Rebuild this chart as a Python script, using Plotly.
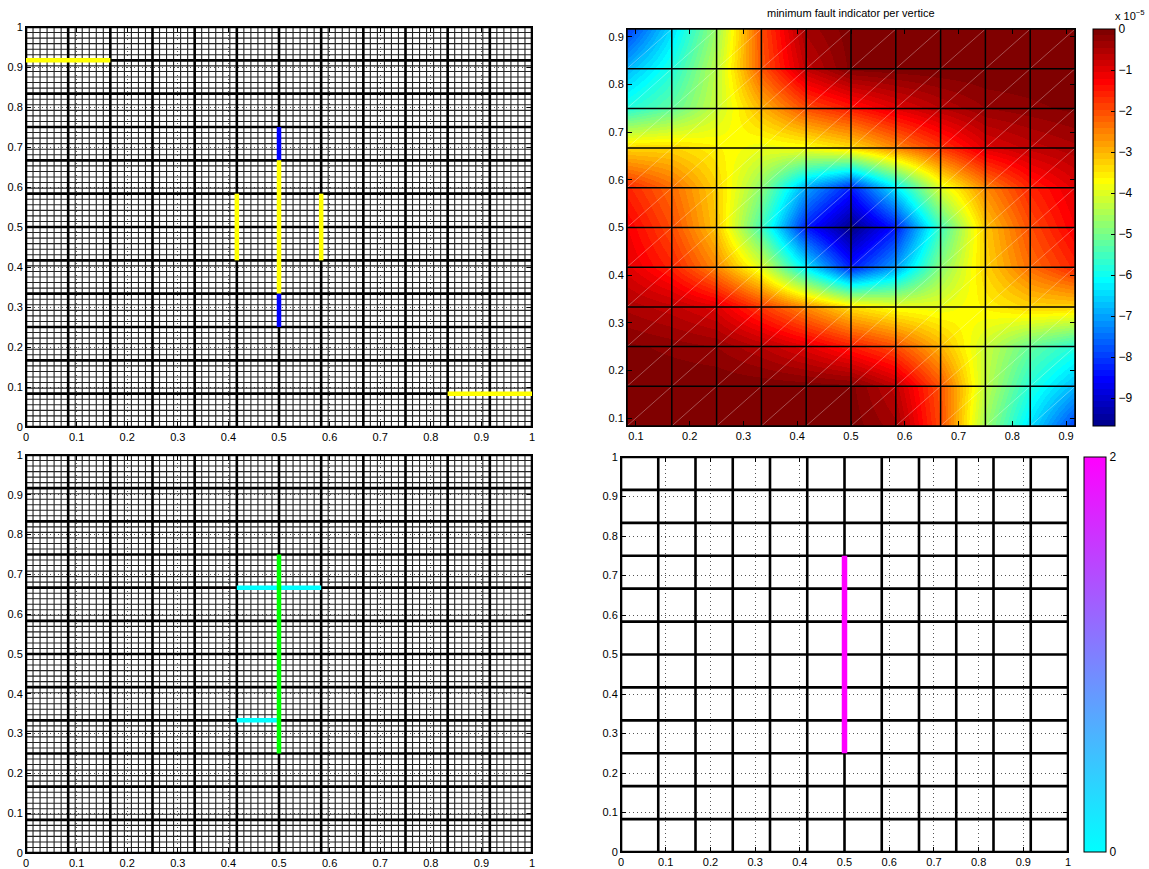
import numpy as np
import plotly.graph_objects as go

# ---------------- data ----------------
# coarse mesh 12x12 elements, each refined 6x6 in the left panels
coarse_lines = [i / 12 for i in range(13)]
fine_lines = [i / 72 for i in range(73)]

# top-left panel: highlighted edges
tl_x0 = [0.0, 10/12, 6/12, 6/12, 6/12, 5/12, 7/12]
tl_x1 = [2/12, 1.0, 6/12, 6/12, 6/12, 5/12, 7/12]
tl_y0 = [11/12, 1/12, 8/12, 4/12, 3/12, 5/12, 5/12]
tl_y1 = [11/12, 1/12, 9/12, 8/12, 4/12, 7/12, 7/12]
tl_col = ["#ffff00", "#ffff00", "#0000ff", "#ffff00", "#0000ff", "#ffff00", "#ffff00"]

# bottom-left panel: highlighted edges
bl_x0 = [5/12, 5/12, 6/12]
bl_x1 = [7/12, 6/12, 6/12]
bl_y0 = [8/12, 4/12, 3/12]
bl_y1 = [8/12, 4/12, 9/12]
bl_col = ["#00ffff", "#00ffff", "#00ff00"]

# top-right: minimum fault indicator per vertex (units of 1e-5), rows bottom -> top
vertex_x = [i / 12 for i in range(1, 12)]
vertex_y = [i / 12 for i in range(1, 12)]
indicator_e5 = [
    [0.0, 0.0, 0.0, 0.0, 0.0, -0.05, -0.4, -2.0, -4.6, -6.4, -8.0],
    [0.0, 0.0, 0.0, -0.02, -0.05, -0.1, -0.7, -2.1, -4.3, -5.8, -6.8],
    [-0.1, -0.2, -0.3, -0.6, -1.0, -1.5, -2.0, -3.0, -4.2, -5.2, -5.8],
    [-0.5, -0.7, -1.0, -1.8, -2.6, -3.4, -3.8, -3.9, -3.6, -3.3, -3.3],
    [-1.0, -1.6, -2.6, -4.0, -6.3, -8.3, -7.0, -4.8, -3.3, -2.3, -1.6],
    [-1.2, -2.0, -3.2, -5.5, -8.3, -9.68, -8.3, -5.5, -3.2, -2.0, -1.2],
    [-1.6, -2.3, -3.3, -4.8, -7.0, -8.3, -6.3, -4.0, -2.6, -1.6, -1.0],
    [-3.3, -3.3, -3.6, -3.9, -3.8, -3.4, -2.6, -1.8, -1.0, -0.7, -0.5],
    [-5.8, -5.2, -4.2, -3.0, -2.0, -1.5, -1.0, -0.6, -0.3, -0.2, -0.1],
    [-6.8, -5.8, -4.3, -2.1, -0.7, -0.1, -0.05, -0.02, 0.0, 0.0, 0.0],
    [-8.0, -6.4, -4.6, -2.0, -0.4, -0.05, 0.0, 0.0, 0.0, 0.0, 0.0],
]
ind_min, ind_max = -9.68, 0.0
cbar1_ticks = [-9, -8, -7, -6, -5, -4, -3, -2, -1, 0]

# bottom-right: fault edge with value
br_x0 = [6/12]
br_x1 = [6/12]
br_y0 = [3/12]
br_y1 = [9/12]
br_val = [2]
cbar2_ticks = [0, 2]

title_tr = "minimum fault indicator per vertice"

# ---------------- styling helpers ----------------
W, H = 1149, 869
FONT = dict(family="Liberation Sans, Arial, sans-serif", size=11, color="black")


def px_x(a, b):
    return [a / W, b / W]


def px_y(top, bottom):
    return [1 - bottom / H, 1 - top / H]


def jet(m=64):
    n = int(np.ceil(m / 4))
    u = np.concatenate([np.arange(1, n + 1) / n, np.ones(n - 1), np.arange(n, 0, -1) / n])
    g = int(np.ceil(n / 2)) - (1 if m % 4 == 1 else 0) + np.arange(1, len(u) + 1)
    r = g + n
    b = g - n
    J = np.zeros((m, 3))
    mr = r <= m
    J[r[mr] - 1, 0] = u[mr]
    mg = g <= m
    J[g[mg] - 1, 1] = u[mg]
    mb = b >= 1
    J[b[mb] - 1, 2] = u[mb]
    return J


J = jet(64)
jet_scale = []
for i, c in enumerate(J):
    col = "rgb(%d,%d,%d)" % tuple(int(round(v * 255)) for v in c)
    jet_scale.append([i / 64, col])
    jet_scale.append([(i + 1) / 64, col])


def grid_xy(vals, lo, hi, vertical):
    xs, ys = [], []
    for v in vals:
        if vertical:
            xs += [v, v, None]
            ys += [lo, hi, None]
        else:
            xs += [lo, hi, None]
            ys += [v, v, None]
    return xs, ys


fig = go.Figure()


def add_mesh(xa, ya, vals, lo, hi, color, width):
    for vert in (True, False):
        xs, ys = grid_xy(vals, lo, hi, vert)
        fig.add_trace(go.Scatter(x=xs, y=ys, mode="lines", xaxis=xa, yaxis=ya,
                                 line=dict(color=color, width=width),
                                 hoverinfo="skip", showlegend=False))


def add_segments(xa, ya, x0, x1, y0, y1, cols, width):
    for a, b, c, d, col in zip(x0, x1, y0, y1, cols):
        fig.add_trace(go.Scatter(x=[a, b], y=[c, d], mode="lines", xaxis=xa, yaxis=ya,
                                 line=dict(color=col, width=width),
                                 hoverinfo="skip", showlegend=False))


# ---- top-left ----
add_mesh("x", "y", fine_lines, 0, 1, "#222222", 1.1)
add_mesh("x", "y", coarse_lines, 0, 1, "black", 2.6)
add_segments("x", "y", tl_x0, tl_x1, tl_y0, tl_y1, tl_col, 4.5)

# ---- bottom-left ----
add_mesh("x2", "y2", fine_lines, 0, 1, "#222222", 1.1)
add_mesh("x2", "y2", coarse_lines, 0, 1, "black", 2.6)
add_segments("x2", "y2", bl_x0, bl_x1, bl_y0, bl_y1, bl_col, 4.5)

# ---- top-right heatmap ----
fig.add_trace(go.Heatmap(
    x=vertex_x, y=vertex_y, z=indicator_e5, zsmooth="best",
    colorscale=jet_scale, zmin=ind_min, zmax=ind_max,
    xaxis="x3", yaxis="y3", hoverinfo="skip",
    colorbar=dict(x=1093 / W, xanchor="left", thickness=22,
                  len=397 / H, lenmode="fraction", y=1 - 227.5 / H, yanchor="middle",
                  xpad=0, ypad=0, outlinewidth=1, outlinecolor="black",
                  ticks="inside", ticklen=4, tickcolor="black",
                  tickvals=cbar1_ticks, tickfont=dict(FONT, size=12)),
))
# triangle diagonals
dx, dy = [], []
for i in range(len(vertex_x) - 1):
    for j in range(len(vertex_y) - 1):
        dx += [vertex_x[i], vertex_x[i + 1], None]
        dy += [vertex_y[j], vertex_y[j + 1], None]
fig.add_trace(go.Scatter(x=dx, y=dy, mode="lines", xaxis="x3", yaxis="y3",
                         line=dict(color="rgba(255,255,255,0.45)", width=0.7),
                         hoverinfo="skip", showlegend=False))
add_mesh("x3", "y3", vertex_x, vertex_x[0], vertex_x[-1], "black", 1.5)

# ---- bottom-right ----
add_mesh("x4", "y4", coarse_lines, 0, 1, "black", 2.6)
for a, b, c, d, v in zip(br_x0, br_x1, br_y0, br_y1, br_val):
    fig.add_trace(go.Scatter(
        x=[a, b], y=[c, d], mode="lines+markers", xaxis="x4", yaxis="y4",
        line=dict(color="#ff00ff", width=5.5),
        marker=dict(size=0.1, color=[v, v], cmin=0, cmax=2,
                    colorscale=[[0, "#00ffff"], [1, "#ff00ff"]], showscale=True,
                    colorbar=dict(x=1084 / W, xanchor="left", thickness=22,
                                  len=395 / H, lenmode="fraction", y=1 - 654.5 / H,
                                  yanchor="middle", xpad=0, ypad=0, outlinewidth=1,
                                  outlinecolor="black", ticks="inside", ticklen=4,
                                  tickcolor="black", tickvals=cbar2_ticks,
                                  tickfont=dict(FONT, size=12))),
        hoverinfo="skip", showlegend=False))

# ---------------- axes ----------------
def ax(domain, rng, anchor, grid=True, tick0=0.0):
    return dict(domain=domain, range=rng, anchor=anchor, tick0=tick0, dtick=0.1,
                ticks="inside", ticklen=5, tickcolor="black", tickwidth=1,
                showline=True, linecolor="black", linewidth=1, mirror="ticks",
                showgrid=grid, gridcolor="#555555", gridwidth=1, griddash="1px,3px",
                zeroline=False, tickfont=FONT, automargin=False, layer="above traces")


lo, hi = vertex_x[0], vertex_x[-1]
fig.update_layout(
    width=W, height=H, autosize=False, template="none",
    margin=dict(l=0, r=0, t=0, b=0),
    paper_bgcolor="white", plot_bgcolor="white",
    showlegend=False, font=FONT,
    xaxis=ax(px_x(26, 532), [0, 1], "y"),
    yaxis=ax(px_y(27, 427), [0, 1], "x"),
    xaxis2=ax(px_x(26, 532), [0, 1], "y2"),
    yaxis2=ax(px_y(455, 853), [0, 1], "x2"),
    xaxis3=ax(px_x(627, 1075), [lo, hi], "y3", grid=False),
    yaxis3=ax(px_y(29, 426), [lo, hi], "x3", grid=False),
    xaxis4=ax(px_x(621, 1068), [0, 1], "y4"),
    yaxis4=ax(px_y(457, 852), [0, 1], "x4"),
    annotations=[
        dict(text=title_tr, x=851 / W, y=1 - 13 / H, xref="paper", yref="paper",
             showarrow=False, xanchor="center", yanchor="middle",
             font=dict(FONT, size=11)),
        dict(text="x 10<sup>−5</sup>", x=1113 / W, y=1 - 24 / H, xref="paper", yref="paper",
             showarrow=False, xanchor="left", yanchor="bottom",
             font=dict(FONT, size=11)),
    ],
)

fig.write_html("out.html", config={"displayModeBar": False},
               post_script="document.body.style.margin='0';document.body.style.overflow='hidden';")
